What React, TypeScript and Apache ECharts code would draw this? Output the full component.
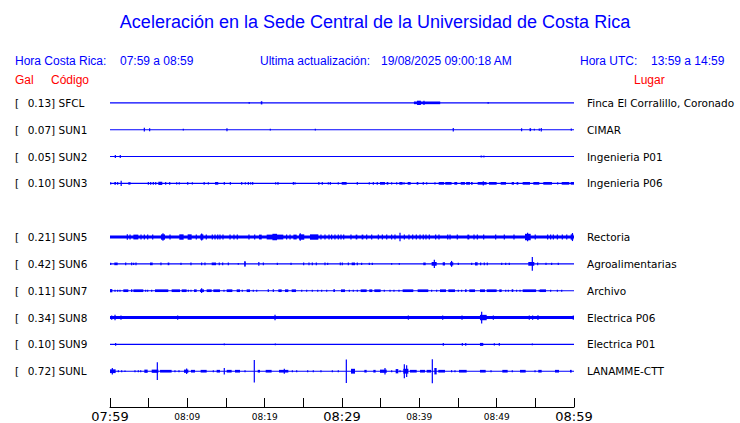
import React, { useEffect, useRef } from "react";
import * as echarts from "echarts";

// ---- data ----
const startClock = 7 * 60 + 59; // 07:59 local
const codes = ["SFCL", "SUN1", "SUN2", "SUN3", "", "SUN5", "SUN6", "SUN7", "SUN8", "SUN9", "SUNL"];
const galMax = [0.13, 0.07, 0.05, 0.1, null, 0.21, 0.42, 0.11, 0.34, 0.1, 0.72];
const places = ["Finca El Corralillo, Coronado", "CIMAR", "Ingenieria P01", "Ingenieria P06", "", "Rectoria", "Agroalimentarias", "Archivo", "Electrica P06", "Electrica P01", "LANAMME-CTT"];
const noiseLevel = [0.02, 0.02, 0.02, 0.02, null, 0.055, 0.02, 0.02, 0.055, 0.02, 0.02];

// bursts: [start minute, end minute, half amplitude (trace spacing = 1)]
const sfcl = [[18.0,18.0,0.03],[19.5,19.7,0.06],[39.3,42.7,0.05],[39.7,40.2,0.08],[40.6,40.6,0.08],[48.9,48.9,0.03]];
const sun1 = [[4.44,4.44,0.07],[5.05,5.2,0.055],[9.48,9.48,0.035],[15.05,15.2,0.055],[20.73,20.73,0.035],[26.55,26.55,0.035],[44.39,44.39,0.065],[53.15,53.3,0.055],[54.25,54.45,0.055],[54.87,54.87,0.03],[55.51,55.51,0.04],[55.77,55.77,0.065],[59.65,59.65,0.04]];
const sun2 = [[0.69,0.69,0.055],[1.33,1.33,0.055],[48.0,48.0,0.035],[48.2,48.45,0.03]];
const sun3 = [[0.09,0.09,0.04],[0.56,0.78,0.05],[0.99,0.99,0.05],[1.38,1.51,0.1],[2.46,2.46,0.05],[2.59,2.59,0.04],[4.96,4.96,0.05],[5.26,5.26,0.05],[5.52,5.69,0.05],[5.91,5.91,0.05],[6.25,6.76,0.06],[7.2,7.2,0.05],[7.72,7.72,0.05],[8.62,8.62,0.04],[8.96,8.96,0.04],[10.0,10.1,0.05],[10.65,10.65,0.04],[12.11,12.24,0.05],[12.72,12.72,0.04],[13.58,14.0,0.05],[14.78,14.78,0.05],[15.56,15.56,0.05],[17.03,17.03,0.05],[17.5,17.5,0.04],[17.89,17.89,0.05],[18.19,18.19,0.04],[18.45,18.45,0.05],[21.42,21.42,0.04],[21.72,21.72,0.05],[23.71,23.71,0.05],[23.92,23.92,0.04],[26.94,27.07,0.05],[27.45,27.45,0.05],[28.23,28.23,0.04],[28.49,28.49,0.05],[29.52,29.52,0.04],[29.96,30.6,0.05],[31.98,31.98,0.05],[33.53,33.53,0.04],[34.05,34.05,0.05],[34.56,34.56,0.05],[34.91,35.56,0.05],[35.78,35.99,0.05],[36.42,36.42,0.04],[37.07,37.07,0.04],[37.41,37.84,0.05],[38.02,38.02,0.04],[38.49,38.88,0.05],[39.66,39.87,0.05],[40.51,40.51,0.05],[40.95,40.95,0.04],[42.02,42.02,0.04],[42.5,43.2,0.05],[43.35,44.17,0.05],[44.52,44.9,0.05],[45.35,45.9,0.05],[46.05,46.55,0.05],[46.68,46.9,0.05],[47.54,48.7,0.05],[48.27,48.27,0.08],[49.0,50.0,0.05],[50.52,51.21,0.05],[51.94,52.24,0.05],[52.58,52.8,0.05],[53.36,54.31,0.05],[54.74,55.51,0.05],[56.03,57.15,0.05],[57.89,57.89,0.04],[58.41,59.39,0.05],[59.57,60,0.05]];
const sun5 = [[2.24,2.24,0.1],[2.59,2.59,0.09],[3.02,3.66,0.09],[4.01,4.01,0.09],[4.44,4.44,0.09],[4.87,4.87,0.09],[5.52,5.52,0.09],[6.59,7.11,0.1],[6.85,6.85,0.14],[7.76,7.76,0.09],[8.96,9.52,0.1],[10.04,10.56,0.1],[11.16,11.16,0.09],[11.68,12.07,0.1],[11.85,11.85,0.13],[12.45,12.45,0.09],[13.23,13.23,0.09],[13.58,13.58,0.09],[13.93,13.93,0.09],[14.22,14.22,0.09],[14.61,14.61,0.09],[15.52,15.52,0.09],[16.03,16.03,0.09],[16.46,16.46,0.09],[17.97,17.97,0.09],[18.71,18.71,0.09],[19.27,19.62,0.09],[20.26,22.41,0.09],[21.0,21.6,0.12],[22.84,22.84,0.09],[23.28,23.28,0.09],[23.71,24.14,0.09],[24.44,25.12,0.1],[24.6,24.6,0.14],[25.86,26.94,0.1],[27.28,27.28,0.09],[27.8,27.8,0.09],[28.32,28.32,0.09],[28.66,28.66,0.09],[29.09,29.09,0.09],[29.52,29.52,0.09],[29.87,29.87,0.09],[30.22,30.22,0.09],[31.16,31.16,0.09],[31.77,31.98,0.09],[32.54,32.76,0.09],[33.19,33.19,0.09],[33.84,33.84,0.09],[34.7,34.7,0.09],[35.22,35.22,0.09],[35.78,35.78,0.09],[36.42,36.42,0.09],[36.85,36.85,0.09],[37.5,37.5,0.16],[38.06,38.06,0.09],[38.66,38.66,0.09],[39.14,39.14,0.09],[39.61,39.61,0.09],[40.09,40.09,0.09],[40.51,40.51,0.09],[40.86,40.86,0.09],[41.29,41.29,0.09],[42.11,42.11,0.09],[42.54,42.54,0.09],[43.67,43.67,0.09],[43.97,43.97,0.09],[44.91,44.91,0.09],[46.21,46.46,0.09],[47.07,47.07,0.09],[47.5,47.5,0.09],[48.32,48.32,0.09],[49.87,49.87,0.09],[50.99,50.99,0.09],[52.24,52.24,0.09],[53.66,54.4,0.12],[54.0,54.0,0.16],[54.99,54.99,0.09],[56.59,56.59,0.09],[56.98,56.98,0.09],[57.33,57.33,0.09],[57.85,57.85,0.09],[58.49,58.49,0.09],[59.06,59.06,0.09],[59.57,59.91,0.1],[59.8,59.8,0.15]];
const sun6 = [[0.09,0.09,0.04],[0.56,0.99,0.05],[2.03,2.03,0.05],[2.8,2.8,0.05],[3.06,3.06,0.04],[3.36,3.36,0.05],[5.17,5.52,0.05],[6.59,6.59,0.05],[7.46,7.67,0.05],[9.18,9.18,0.04],[10.47,10.47,0.05],[11.85,11.85,0.05],[12.28,12.28,0.05],[13.15,13.71,0.05],[14.13,14.13,0.05],[14.57,14.57,0.05],[15.3,15.3,0.05],[16.59,16.59,0.03],[17.37,17.54,0.07],[17.45,17.45,0.11],[19.18,19.31,0.07],[19.83,19.83,0.05],[21.64,21.64,0.04],[23.41,23.41,0.04],[25.04,25.04,0.05],[25.73,25.73,0.05],[26.16,26.16,0.05],[26.68,26.68,0.05],[27.8,27.8,0.05],[28.15,28.15,0.04],[29.78,29.78,0.05],[30.04,30.04,0.05],[30.82,30.82,0.05],[31.25,31.68,0.05],[31.98,31.98,0.05],[32.54,32.54,0.04],[33.53,33.53,0.04],[33.92,33.92,0.04],[36.42,36.42,0.03],[37.41,37.41,0.03],[40.51,40.82,0.05],[41.59,42.24,0.07],[41.94,41.94,0.15],[43.02,43.32,0.06],[43.97,44.39,0.06],[44.17,44.17,0.11],[45.04,45.04,0.04],[46.77,46.77,0.04],[47.2,47.54,0.06],[47.93,47.93,0.05],[48.4,48.4,0.05],[48.79,48.79,0.05],[50.65,50.65,0.04],[51.17,51.17,0.04],[51.63,51.63,0.04],[54.09,54.87,0.07],[54.61,54.61,0.26],[55.3,55.3,0.05],[56.38,56.38,0.04],[57.11,57.11,0.04],[57.97,57.97,0.04]];
const sun7 = [[0,0.3,0.06],[0.65,0.65,0.04],[0.99,0.99,0.04],[1.29,1.29,0.04],[1.72,2.37,0.05],[2.72,2.89,0.05],[3.02,4.31,0.05],[4.61,4.61,0.04],[4.87,4.87,0.04],[5.39,5.39,0.04],[5.82,7.54,0.05],[7.97,9.05,0.05],[9.27,9.91,0.05],[10.13,10.13,0.04],[10.47,10.47,0.04],[10.86,11.21,0.05],[11.64,12.15,0.05],[11.85,11.85,0.09],[12.5,13.15,0.05],[13.36,14.22,0.05],[14.74,14.74,0.04],[15.09,15.82,0.05],[16.38,16.81,0.05],[17.11,17.11,0.04],[17.67,18.1,0.05],[18.53,18.53,0.04],[18.97,18.97,0.04],[20.47,20.47,0.05],[21.12,21.12,0.05],[21.77,22.2,0.05],[22.63,23.06,0.05],[23.49,24.05,0.05],[24.79,24.79,0.04],[25.43,25.43,0.04],[26.16,26.16,0.04],[26.86,26.86,0.04],[27.37,27.37,0.04],[28.02,28.02,0.04],[28.88,29.09,0.05],[29.87,30.39,0.05],[30.95,30.95,0.04],[31.46,31.46,0.04],[31.98,31.98,0.04],[32.41,33.19,0.05],[33.53,33.92,0.05],[34.18,35.0,0.05],[35.47,35.47,0.04],[36.21,36.21,0.04],[36.72,36.72,0.04],[37.37,37.37,0.04],[37.84,39.22,0.05],[39.78,41.16,0.05],[41.59,41.59,0.04],[42.24,42.24,0.04],[42.67,43.45,0.05],[43.75,44.61,0.05],[45.04,45.04,0.04],[45.47,45.47,0.04],[45.9,46.12,0.05],[46.46,47.2,0.05],[47.84,48.49,0.05],[48.71,50.0,0.05],[50.34,50.65,0.05],[51.17,51.17,0.04],[51.51,51.51,0.04],[51.94,52.15,0.05],[52.58,52.58,0.04],[53.02,53.02,0.04],[53.36,55.1,0.05],[55.51,55.51,0.04],[55.6,56.38,0.05],[56.98,56.98,0.04],[57.85,57.85,0.04],[58.41,58.41,0.04]];
const sun8 = [[0.22,0.22,0.08],[0.65,0.65,0.1],[1.42,1.42,0.08],[8.75,8.75,0.08],[21.34,21.34,0.1],[38.58,38.58,0.08],[43.02,43.02,0.08],[45.52,45.52,0.08],[47.84,48.71,0.1],[48.06,48.06,0.22],[49.57,49.57,0.08],[54.22,54.22,0.08],[54.65,54.65,0.08],[55.34,55.34,0.09],[59.91,59.91,0.08]];
const sun9 = [[0.73,0.73,0.05],[14.78,14.78,0.03],[21.38,21.38,0.03],[43.1,43.1,0.05],[45.56,45.56,0.05],[46.0,46.0,0.05],[47.84,48.27,0.055],[49.7,49.7,0.04],[50.34,50.34,0.05],[54.61,54.61,0.03]];
const sunl = [[0,0.73,0.07],[0.3,0.3,0.12],[1.08,1.08,0.04],[1.51,1.51,0.04],[1.94,1.94,0.03],[3.23,3.23,0.04],[3.66,3.66,0.04],[3.97,3.97,0.04],[4.44,4.87,0.06],[5.39,6.25,0.06],[6.12,6.12,0.33],[6.47,7.97,0.05],[8.4,8.4,0.04],[8.92,8.92,0.04],[9.57,10.13,0.06],[9.91,9.91,0.1],[10.47,10.99,0.05],[11.72,12.5,0.05],[13.36,13.36,0.04],[13.79,14.22,0.05],[14.78,14.78,0.12],[15.09,15.73,0.05],[16.16,16.81,0.05],[17.46,17.46,0.04],[18.66,18.66,0.42],[19.1,19.4,0.05],[20.13,20.9,0.05],[21.85,23.06,0.05],[22.54,22.54,0.09],[23.58,23.58,0.04],[24.14,24.14,0.04],[25.56,25.56,0.04],[26.29,26.29,0.04],[27.28,27.28,0.04],[28.75,28.75,0.04],[29.52,29.52,0.04],[30.56,30.56,0.44],[31.16,31.68,0.09],[32.89,33.19,0.05],[34.05,34.35,0.05],[34.91,35.78,0.06],[35.56,35.56,0.12],[36.42,36.42,0.04],[36.94,37.28,0.08],[37.5,37.5,0.04],[37.93,38.58,0.09],[38.06,38.06,0.26],[38.36,38.36,0.22],[38.79,39.66,0.05],[40.09,40.73,0.05],[40.95,41.51,0.05],[41.68,41.68,0.45],[41.94,42.24,0.12],[42.45,43.32,0.05],[44.17,44.17,0.04],[44.61,44.61,0.04],[45.13,46.12,0.05],[47.84,48.58,0.05],[49.27,49.27,0.04],[50.73,51.42,0.05],[52.02,52.02,0.04],[53.02,53.75,0.05],[54.96,54.96,0.04],[55.38,55.82,0.05],[57.54,58.06,0.05],[59.48,59.7,0.05]];
const bursts = [sfcl, sun1, sun2, sun3, [], sun5, sun6, sun7, sun8, sun9, sunl];

const headerLeft = ["Hora Costa Rica:", "07:59 a 08:59"];
const headerMid = ["Ultima actualización:", "19/08/2025 09:00:18 AM"];
const headerRight = ["Hora UTC:", "13:59 a 14:59"];

const BLUE = "#0000ff";
const RED = "#ff0000";
const SANS = '"Liberation Sans", Arial, sans-serif';
const DEJA = '"DejaVu Sans", sans-serif';

function clock(v: number) {
  const m = startClock + Math.round(v);
  const hh = Math.floor(m / 60) % 24;
  const mm = m % 60;
  return String(hh).padStart(2, "0") + ":" + String(mm).padStart(2, "0");
}

export default function App() {
  const ref = useRef<HTMLDivElement>(null);
  useEffect(() => {
    if (!ref.current) return;
    const chart = echarts.init(ref.current, null, { renderer: "svg" });

    const data: number[][] = [];
    codes.forEach((c, i) => {
      if (!c) return;
      data.push([i, 0, 60, noiseLevel[i] as number]);
    });
    bursts.forEach((list, i) => {
      list.forEach((b) => data.push([i, b[0], b[1], b[2]]));
    });

    const txt = (text: string, x: number, y: number, fill: string, size: number, align = "left") => ({
      type: "text",
      x,
      y,
      silent: true,
      style: { text, fill, font: `${size}px ${SANS}`, align, verticalAlign: "middle" },
    });

    const option: any = {
      animation: false,
      backgroundColor: "#ffffff",
      grid: { left: 110, right: 166, top: 76, bottom: 14 },
      xAxis: {
        type: "value",
        position: "bottom",
        min: 0,
        max: 60,
        interval: 5,
        axisLine: { show: true, onZero: false, lineStyle: { color: "#000", width: 1 } },
        axisTick: { show: true, inside: true, length: 9, lineStyle: { color: "#000", width: 1 } },
        splitLine: { show: false },
        axisLabel: {
          margin: 2,
          formatter: (v: number) => {
            if (v % 10 !== 0) return "";
            return v % 30 === 0 ? `{big|${clock(v)}}` : `{small|${clock(v)}}`;
          },
          rich: {
            big: { fontSize: 13, fontFamily: DEJA, color: "#000", lineHeight: 15 },
            small: { fontSize: 9, fontFamily: DEJA, color: "#000", lineHeight: 15 },
          },
        },
      },
      yAxis: [
        {
          type: "value",
          min: -1,
          max: 11.3333,
          interval: 1,
          inverse: true,
          axisLine: { show: false, onZero: false },
          axisTick: { show: false },
          splitLine: { show: false },
          axisLabel: {
            align: "left",
            margin: 95,
            formatter: (v: number) => {
              if (!Number.isInteger(v) || v < 0 || v > 10 || !codes[v]) return "";
              return `{br|[}{tx|${(galMax[v] as number).toFixed(2)}] ${codes[v]}}`;
            },
            rich: {
              br: { width: 12.7, fontSize: 10.5, fontFamily: DEJA, color: "#000" },
              tx: { fontSize: 10.5, fontFamily: DEJA, color: "#000" },
            },
          },
        },
        {
          type: "value",
          position: "right",
          min: -1,
          max: 11.3333,
          interval: 1,
          inverse: true,
          axisLine: { show: false, onZero: false },
          axisTick: { show: false },
          splitLine: { show: false },
          axisLabel: {
            align: "left",
            margin: 13,
            fontSize: 10.5,
            fontFamily: DEJA,
            color: "#000",
            formatter: (v: number) => {
              if (!Number.isInteger(v) || v < 0 || v > 10) return "";
              return places[v] || "";
            },
          },
        },
      ],
      graphic: [
        txt("Aceleración en la Sede Central de la Universidad de Costa Rica", 375, 22, BLUE, 18, "center"),
        txt(headerLeft[0], 15, 61, BLUE, 12),
        txt(headerLeft[1], 120, 61, BLUE, 12),
        txt(headerMid[0], 260, 61, BLUE, 12),
        txt(headerMid[1], 381, 61, BLUE, 12),
        txt(headerRight[0], 580, 61, BLUE, 12),
        txt(headerRight[1], 651, 61, BLUE, 12),
        txt("Gal", 15, 80, RED, 12),
        txt("Código", 51, 80, RED, 12),
        txt("Lugar", 634, 80, RED, 12),
      ],
      series: [
        {
          type: "custom",
          xAxisIndex: 0,
          yAxisIndex: 0,
          clip: false,
          encode: { x: [1, 2], y: 0 },
          data,
          renderItem: (params: any, api: any) => {
            const row = api.value(0);
            const t0 = api.value(1);
            const t1 = api.value(2);
            const a = api.value(3);
            const p0 = api.coord([t0, row]);
            const p1 = api.coord([t1, row]);
            const h = Math.abs(api.size([0, a])[1]);
            const half = Math.max(h, 0.55);
            let x = p0[0];
            let w = p1[0] - p0[0];
            if (w < 1.2) {
              x = (p0[0] + p1[0]) / 2 - 0.6;
              w = 1.2;
            }
            return {
              type: "rect",
              shape: { x, y: p0[1] - half, width: w, height: 2 * half },
              style: { fill: BLUE },
            };
          },
        },
      ],
    };
    chart.setOption(option);
    return () => chart.dispose();
  }, []);

  return (
    <div
      ref={ref}
      style={{ position: "absolute", left: 0, top: 0, width: 740, height: 423, background: "#fff" }}
    />
  );
}
